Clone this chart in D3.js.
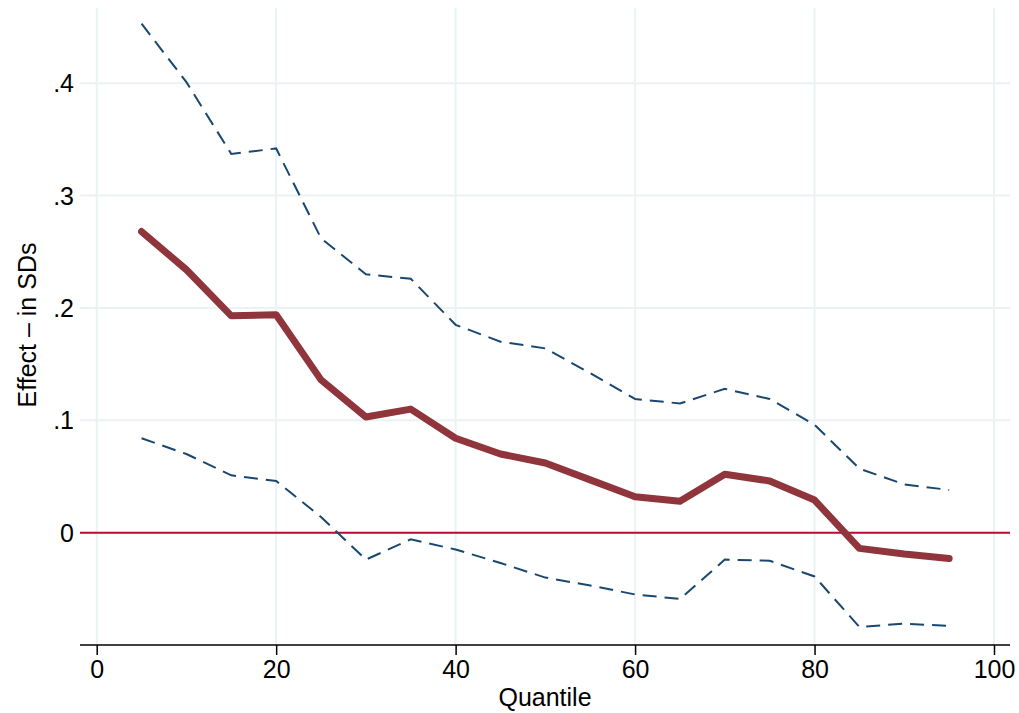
<!DOCTYPE html>
<html>
<head>
<meta charset="utf-8">
<script src="https://cdn.jsdelivr.net/npm/d3@7"></script>
<style>
  body { margin: 0; background: #fff; }
  text { font-family: "Liberation Sans", Arial, sans-serif; fill: #000; }
</style>
</head>
<body>
<script>
"use strict";

let width = 1019;
let height = 713;

// quantiles and estimates
let quantiles = [5, 10, 15, 20, 25, 30, 35, 40, 45, 50, 55, 60, 65, 70, 75, 80, 85, 90, 95];
let effect = [0.268, 0.234, 0.193, 0.194, 0.136, 0.103, 0.110, 0.084, 0.070, 0.062, 0.047, 0.032, 0.028, 0.052, 0.046, 0.029, -0.014, -0.019, -0.023];
let upper = [0.453, 0.401, 0.337, 0.342, 0.262, 0.230, 0.226, 0.185, 0.170, 0.164, 0.142, 0.119, 0.115, 0.128, 0.119, 0.096, 0.057, 0.043, 0.038];
let lower = [0.084, 0.070, 0.051, 0.046, 0.014, -0.024, -0.006, -0.015, -0.027, -0.040, -0.047, -0.055, -0.059, -0.024, -0.025, -0.039, -0.084, -0.081, -0.083];

let xTicks = [0, 20, 40, 60, 80, 100];
let yTicks = [0, 0.1, 0.2, 0.3, 0.4];
let yTickLabels = ["0", ".1", ".2", ".3", ".4"];

let plotLeft = 80, plotRight = 1010, plotTop = 8, plotBottom = 645;

let svg = d3.select("body").append("svg").attr("width", width).attr("height", height);

let x = d3.scaleLinear().domain([0, 100]).range([96.7, 994]);
let y = d3.scaleLinear().domain([-0.1, 0.467]).range([plotBottom, plotTop]);

// grid
let grid = svg.append("g");
grid.selectAll(".vg")
  .data(xTicks)
  .enter()
  .append("line")
    .attr("x1", d => x(d)).attr("x2", d => x(d))
    .attr("y1", plotTop).attr("y2", plotBottom)
    .attr("stroke", "#eaf2f3")
    .attr("stroke-width", 2);
grid.selectAll(".hg")
  .data(yTicks.filter(d => d !== 0))
  .enter()
  .append("line")
    .attr("x1", plotLeft).attr("x2", plotRight)
    .attr("y1", d => y(d)).attr("y2", d => y(d))
    .attr("stroke", "#eaf2f3")
    .attr("stroke-width", 2);

// zero line
svg.append("line")
  .attr("x1", plotLeft).attr("x2", plotRight)
  .attr("y1", y(0)).attr("y2", y(0))
  .attr("stroke", "#c10534")
  .attr("stroke-width", 2);

let line = d3.line().x((d, i) => x(quantiles[i])).y(d => y(d));

// confidence bands
[upper, lower].forEach(function (band) {
  svg.append("path")
    .attr("d", line(band))
    .attr("fill", "none")
    .attr("stroke", "#1a476f")
    .attr("stroke-width", 2)
    .attr("stroke-dasharray", "14,8");
});

// point estimates
svg.append("path")
  .attr("d", line(effect))
  .attr("fill", "none")
  .attr("stroke", "#90353b")
  .attr("stroke-width", 7)
  .attr("stroke-linecap", "round")
  .attr("stroke-linejoin", "round");

// x axis
let xAxis = svg.append("g")
  .attr("transform", "translate(0," + plotBottom + ")")
  .call(d3.axisBottom(x).tickValues(xTicks).tickSize(10).tickPadding(5).tickFormat(d3.format("d")));
xAxis.select(".domain").remove();
xAxis.append("line")
  .attr("x1", plotLeft).attr("x2", plotRight)
  .attr("stroke", "#000").attr("stroke-width", 1.5);
xAxis.selectAll(".tick line").attr("stroke-width", 1.5);
xAxis.selectAll("text").style("font-size", "25px").attr("fill", "#000");

// y axis labels (no axis line)
svg.selectAll(".ylab")
  .data(yTicks)
  .enter()
  .append("text")
    .attr("x", 74)
    .attr("y", d => y(d))
    .attr("dy", "0.36em")
    .attr("text-anchor", "end")
    .style("font-size", "25px")
    .text((d, i) => yTickLabels[i]);

svg.append("text")
  .attr("x", 545)
  .attr("y", 706)
  .attr("text-anchor", "middle")
  .style("font-size", "25px")
  .text("Quantile");

svg.append("text")
  .attr("transform", "translate(36,325) rotate(-90)")
  .attr("text-anchor", "middle")
  .style("font-size", "25px")
  .text("Effect – in SDs");
</script>
</body>
</html>
